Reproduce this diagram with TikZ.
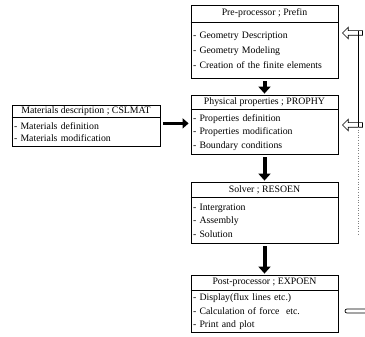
\documentclass[tikz,border=0pt]{standalone}
\usepackage{fontspec}
\setmainfont{Liberation Serif}
\usetikzlibrary{positioning,arrows.meta,shapes.arrows}
\begin{document}
\begin{tikzpicture}[x=1pt,y=-1pt,font=\fontsize{9.8}{13.5}\selectfont,
  titlebox/.style={draw,line width=0.8pt,minimum width=147pt,inner sep=1pt},
  listbox/.style={draw,line width=0.8pt,minimum width=147pt,text width=143pt,align=left,inner xsep=2pt,inner ysep=1pt},
  downarrow/.style={line width=4pt,-{Triangle[length=7pt,width=12pt]},shorten <=2pt,shorten >=1pt},
  sidearrow/.style={line width=3pt,-{Triangle[length=6pt,width=10pt]}},
  feedarrow/.style={draw,line width=0.7pt,fill=white,single arrow,shape border rotate=180,minimum height=20pt,inner sep=2pt,single arrow head extend=3.5pt}]
\useasboundingbox (0,0) rectangle (365,337);
% pre-processor
\node[titlebox,minimum height=17pt] (pretitle) at (264.5,13.5) {Pre-processor ; Prefin};
\node[listbox,below=0pt of pretitle,minimum height=56pt] (prebody) {- Geometry Description\\[1.5pt] - Geometry Modeling\\[1.5pt] - Creation of the finite elements};
\draw[line width=1.5pt] (pretitle.south west) -- (pretitle.south east);
% physical properties
\node[titlebox,minimum height=14pt] (phystitle) at (264.5,102) {Physical properties ; PROPHY};
\node[listbox,below=0pt of phystitle,minimum height=45pt] (physbody) {- Properties definition\\ - Properties modification\\ - Boundary conditions};
\draw[line width=1.5pt] (phystitle.south west) -- (phystitle.south east);
% solver
\node[titlebox,minimum height=15pt] (soltitle) at (264.5,189.5) {Solver ; RESOEN};
\node[listbox,below=0pt of soltitle,minimum height=46pt] (solbody) {- Intergration\\ - Assembly\\ - Solution};
\draw[line width=1.5pt] (soltitle.south west) -- (soltitle.south east);
% post-processor
\node[titlebox,minimum height=15pt] (posttitle) at (264.5,282.5) {Post-processor ; EXPOEN};
\node[listbox,below=0pt of posttitle,minimum height=42pt] (postbody) {- Display(flux lines etc.)\\ - Calculation of force~ etc.\\ - Print and plot};
\draw[line width=1.5pt] (posttitle.south west) -- (posttitle.south east);
% materials
\node[titlebox,minimum width=148pt,minimum height=12pt] (mattitle) at (86,111) {Materials description ; CSLMAT};
\node[listbox,minimum width=148pt,text width=144pt,below=0pt of mattitle,minimum height=29pt] (matbody) {- Materials definition\\[-1.5pt] - Materials modification};
\draw[line width=1.5pt] (mattitle.south west) -- (mattitle.south east);
% flow
\draw[downarrow] (prebody) -- (phystitle);
\draw[downarrow] (physbody) -- (soltitle);
\draw[downarrow] (solbody) -- (posttitle);
\draw[sidearrow] ([xshift=3pt,yshift=-6pt]matbody.north east) -- ([xshift=-2pt,yshift=-6pt]matbody.north east -| physbody.west);
% feedback
\node[feedarrow,anchor=tip] (prefeed) at (342,33) {};
\node[feedarrow,anchor=tip] (physfeed) at (342,125) {};
\coordinate (feedtop) at (358,31);
\coordinate (feedmid) at (358,127);
\coordinate (feedend) at (358,235);
\draw[line width=0.7pt] (feedtop) -- (feedmid);
\draw[line width=0.6pt,gray,dotted] (feedmid) -- (feedend);
\node[draw,line width=0.7pt,rounded corners=2pt,minimum width=22pt,minimum height=4pt,inner sep=0pt] (poststub) at (356,311) {};
\end{tikzpicture}
\end{document}
